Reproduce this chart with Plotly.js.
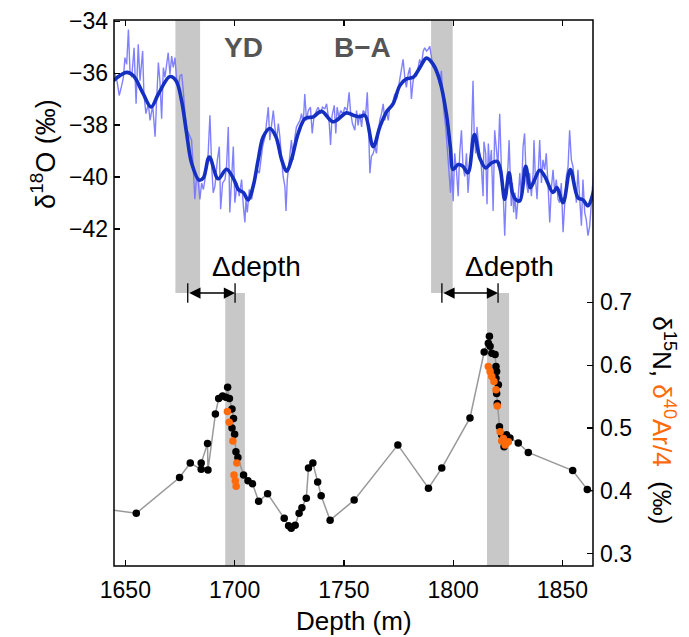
<!DOCTYPE html>
<html>
<head>
<meta charset="utf-8">
<script src="https://cdn.plot.ly/plotly-3.0.1.min.js"></script>
<style>html,body{margin:0;padding:0;background:#fff;}#chart{width:689px;height:637px;}</style>
</head>
<body>
<div id="chart"></div>
<script>
// ---- δ18O raw (thin line) ----
const depthRaw = [1644.5,1645.3,1646.3,1647.2,1648.3,1649.1,1649.8,1650.6,1651.4,1652.1,1652.9,1654.0,1654.9,1655.9,1656.7,1657.9,1658.5,1659.4,1660.5,1661.3,1662.5,1663.6,1664.3,1665.1,1665.8,1666.6,1667.4,1668.1,1668.9,1669.6,1670.4,1671.2,1671.9,1672.7,1673.5,1674.2,1675.0,1675.8,1676.5,1677.3,1678.3,1679.6,1680.3,1681.1,1681.8,1682.6,1683.4,1684.1,1684.9,1685.7,1686.9,1687.9,1688.7,1689.5,1690.2,1691.0,1692.1,1693.0,1693.6,1694.5,1695.6,1696.3,1697.1,1697.8,1698.6,1699.4,
1700.1,1701.2,1702.1,1703.2,1704.0,1704.7,1705.2,1705.8,1706.7,1707.8,1708.8,1709.7,1710.3,1711.3,1711.9,1712.8,1713.9,1714.6,1715.4,1716.1,1716.9,1717.7,1718.4,1719.2,1720.0,1720.7,1721.5,1722.2,1723.0,1723.5,1724.1,1725.0,1726.0,1726.8,1727.6,1728.3,1729.9,1730.6,1731.4,1732.1,1732.9,1733.7,1734.7,1735.5,1736.3,1737.5,1738.2,1739.3,1740.2,1741.3,1742.1,1743.3,1743.9,1744.6,1745.6,1746.3,1746.9,1747.7,1748.5,1749.7,1750.4,1751.5,1752.4,1753.0,1753.9,
1755.0,1755.8,1756.5,1757.3,1758.1,1758.8,1760.0,1760.7,1761.3,1761.9,1762.6,1763.4,1764.2,1764.9,1765.7,1766.4,1767.2,1768.0,1768.7,1769.5,1770.3,1771.0,1772.2,1773.3,1774.1,1774.8,1775.6,1776.3,1777.1,1777.9,1778.6,1779.4,1780.2,1780.9,1781.7,1782.4,1783.2,1784.0,1784.7,1785.5,1786.3,1787.0,1787.8,1788.5,1789.3,1790.1,1790.8,1791.6,1792.3,1793.1,1793.9,1794.6,1795.1,1795.7,1796.6,1797.2,1798.1,1798.8,1799.4,1800.0,1800.7,1801.5,1802.3,1803.0,1803.8,1804.5,1805.3,1806.1,1806.8,1807.6,1808.3,1809.1,
1809.6,1810.3,1810.9,1811.4,1812.2,1812.9,1813.7,1814.1,1814.9,1815.5,1816.1,1816.7,1817.5,1818.3,1819.0,1819.8,1820.5,1821.3,1822.1,1822.8,1823.6,1824.4,1825.1,1825.6,1826.2,1826.6,1827.1,1827.7,1828.3,1828.9,1829.7,1830.5,1831.2,1832.0,1832.7,1833.5,1834.3,1835.0,1835.8,1836.6,1837.0,1837.6,1838.4,1839.0,1839.6,1840.4,1841.1,1841.9,1842.6,1843.4,1844.2,1844.9,1845.7,1846.5,1847.2,1848.0,1848.7,1849.5,1850.3,1851.0,1851.8,1852.6,1853.3,1854.1,1854.8,1855.6,1856.4,1857.1,1857.9,1858.7,1859.4,1860.2,1860.9,1861.7,1862.5,1863.2,1864.0,1864.7];
const d18ORaw = [-35.91,-36.04,-36.36,-36.86,-36.48,-36.16,-35.40,-35.66,-34.32,-35.91,-36.16,-35.02,-37.18,-34.89,-36.29,-35.15,-36.80,-37.56,-37.18,-37.82,-37.24,-38.45,-37.05,-35.59,-36.29,-37.75,-35.78,-36.16,-35.66,-35.21,-36.04,-35.34,-35.78,-35.40,-36.29,-36.54,-36.10,-36.04,-36.67,-37.56,-38.19,-38.45,-38.58,-39.72,-40.86,-39.97,-40.23,-40.86,-40.23,-40.48,-39.85,-39.09,-37.62,-39.59,-40.61,-40.35,-39.34,-38.83,-41.24,-40.23,-40.10,-39.59,-38.07,-41.37,-40.23,-38.83,
-40.99,-40.23,-40.74,-40.10,-41.12,-41.75,-40.86,-41.37,-40.48,-40.86,-40.36,-39.98,-39.72,-39.85,-39.34,-38.83,-38.45,-37.82,-37.31,-38.58,-37.94,-37.44,-38.07,-38.58,-37.94,-38.45,-39.34,-39.98,-40.36,-41.31,-40.10,-39.34,-38.58,-39.34,-38.45,-38.07,-37.82,-37.56,-37.94,-36.80,-37.82,-37.44,-37.31,-38.32,-37.69,-37.44,-37.31,-37.56,-37.31,-37.37,-37.18,-37.94,-38.77,-37.63,-37.24,-38.32,-37.31,-37.69,-37.44,-37.56,-37.31,-37.44,-36.74,-37.44,-37.94,
-38.20,-37.44,-38.01,-37.56,-38.07,-37.44,-37.56,-36.74,-38.07,-39.85,-39.21,-39.09,-38.83,-39.09,-38.32,-37.82,-37.56,-37.18,-37.82,-37.44,-37.82,-37.31,-37.18,-36.80,-36.99,-36.61,-36.17,-35.78,-35.47,-36.17,-36.55,-36.04,-35.78,-36.99,-36.29,-36.04,-36.10,-35.78,-35.47,-35.66,-35.15,-35.02,-35.15,-35.09,-34.96,-35.40,-35.78,-35.72,-35.85,-36.17,-36.48,-35.91,-36.80,-37.44,-38.07,-38.71,-39.59,-40.61,-39.59,-40.93,-39.09,-39.72,-40.74,-39.09,-38.20,-39.59,-39.98,-39.09,-40.61,-39.34,-38.71,-36.29,
-38.20,-39.09,-38.07,-38.58,-39.21,-39.59,-40.74,-38.64,-39.09,-41.05,-38.71,-39.59,-38.96,-41.31,-38.20,-38.83,-39.59,-37.56,-39.72,-40.36,-42.26,-40.23,-39.59,-38.58,-40.86,-41.12,-40.23,-41.37,-40.61,-41.63,-40.86,-39.85,-40.86,-38.83,-38.32,-40.23,-40.61,-39.85,-40.74,-39.85,-38.58,-39.98,-40.86,-39.85,-38.58,-40.23,-39.34,-39.72,-39.09,-40.23,-41.75,-40.48,-39.72,-40.61,-40.10,-40.86,-40.99,-40.23,-42.13,-41.12,-39.98,-39.59,-38.20,-39.34,-39.59,-40.23,-40.99,-39.72,-40.86,-41.88,-40.10,-41.37,-41.63,-42.26,-41.88,-41.12,-40.10,-39.09];

// ---- δ18O smoothed (thick line) ----
const depthSmooth = [1644.5,1650.6,1653.7,1658.2,1661.8,1665.1,1670.4,1673.2,1675.7,1678.0,1680.3,1683.8,1685.7,1688.4,1692.5,1696.3,1699.7,1701.7,1704.0,1706.2,1708.5,1710.8,1713.1,1716.2,1718.9,1721.5,1723.8,1726.0,1729.1,1732.2,1736.0,1739.8,1745.1,1751.2,1754.3,1757.3,1759.6,1763.4,1766.5,1769.5,1772.5,1775.6,1778.6,1781.7,1784.8,1787.8,1790.8,1793.9,1796.9,1798.7,1800.0,1802.3,1804.5,1806.8,1809.7,1812.2,1814.9,1817.5,1820.1,1821.6,1823.6,1825.6,1827.1,1828.6,1830.5,1833.2,1835.3,1837.3,1839.6,1841.9,1845.7,1847.5,1850.3,1853.6,1857.1,1859.4,1861.7,1863.7,1864.8];
const d18OSmooth = [-36.29,-35.97,-36.10,-36.80,-37.30,-36.80,-36.13,-36.29,-37.05,-38.30,-39.46,-40.12,-40.03,-39.23,-40.07,-39.70,-40.10,-40.48,-40.60,-40.88,-40.35,-39.33,-38.45,-38.13,-38.45,-39.33,-39.78,-39.33,-38.32,-37.75,-37.68,-37.47,-37.87,-37.53,-37.62,-37.68,-37.62,-38.83,-38.06,-37.49,-37.18,-36.48,-36.22,-36.16,-35.78,-35.42,-35.65,-36.29,-37.56,-38.83,-39.71,-39.52,-39.59,-39.84,-38.36,-39.27,-39.65,-39.46,-39.40,-39.71,-40.86,-39.84,-40.60,-40.86,-40.92,-39.59,-40.41,-40.10,-39.74,-39.97,-40.60,-40.41,-40.99,-39.71,-40.80,-40.88,-41.11,-40.73,-40.35];

// ---- δ15N (black dots, grey line) ----
const depthN15 = [1640.0,1655.0,1674.8,1679.7,1684.7,1684.7,1687.6,1687.8,1691.2,1692.7,1694.5,1696.0,1696.8,1697.6,1698.8,1699.5,1698.8,1700.0,1700.6,1701.5,1704.1,1706.1,1708.2,1711.0,1715.1,1722.7,1724.7,1725.9,1727.7,1729.5,1730.8,1732.8,1733.8,1735.8,1738.0,1739.6,1743.7,1754.7,1774.7,1788.7,1794.8,1807.7,1814.2,1816.6,1816.1,1816.9,1817.7,1819.2,1819.6,1819.9,1819.6,1820.7,1819.9,1820.2,1821.2,1822.2,1823.3,1824.5,1826.0,1829.8,1834.4,1854.7,1861.4,1868.0];
const n15 = [0.371,0.364,0.421,0.444,0.434,0.444,0.475,0.433,0.522,0.547,0.551,0.549,0.565,0.547,0.530,0.515,0.500,0.490,0.462,0.453,0.425,0.416,0.411,0.383,0.395,0.356,0.344,0.340,0.345,0.364,0.373,0.388,0.436,0.444,0.414,0.392,0.353,0.385,0.473,0.404,0.436,0.516,0.621,0.646,0.635,0.630,0.619,0.617,0.598,0.590,0.579,0.569,0.555,0.539,0.502,0.489,0.470,0.489,0.484,0.476,0.461,0.432,0.402,0.393];

// ---- δ40Ar/4 (orange dots) ----
const depthAr = [1696.7,1697.5,1699.2,1701.0,1699.7,1700.3,1700.7,1816.1,1816.9,1817.7,1818.7,1819.6,1820.2,1821.5,1822.2,1823.0,1823.8,1824.5,1825.3];
const ar40 = [0.526,0.509,0.479,0.444,0.425,0.416,0.407,0.598,0.590,0.582,0.574,0.561,0.535,0.494,0.479,0.483,0.473,0.476,0.478];

// ---- grey bands (depth ranges) ----
const topBands = [[1672.9,1684.2],[1789.9,1799.8]];
const bottomBands = [[1695.7,1704.7],[1815.5,1825.6]];

const xTicks = [1650,1700,1750,1800,1850];
const yTopTicks = [-42,-40,-38,-36,-34];
const yBotTicks = [0.3,0.4,0.5,0.6,0.7];

const FONT = 'Liberation Sans, Arial, Helvetica, sans-serif';
const ORANGE = '#ff6a0a';

const traces = [
  {x: depthRaw, y: d18ORaw, xaxis:'x2', yaxis:'y', mode:'lines',
   line:{color:'rgba(115,115,255,0.9)', width:1.4}, hoverinfo:'skip'},
  {x: depthSmooth, y: d18OSmooth, xaxis:'x2', yaxis:'y', mode:'lines',
   line:{color:'#1530c0', width:3.6, shape:'spline', smoothing:1}, hoverinfo:'skip'},
  {x: depthN15, y: n15, xaxis:'x', yaxis:'y2', mode:'lines+markers',
   line:{color:'#999999', width:1.5}, marker:{color:'#000', size:7.5}, hoverinfo:'skip'},
  {x: depthAr, y: ar40, xaxis:'x', yaxis:'y2', mode:'markers',
   marker:{color:ORANGE, size:7.5}, hoverinfo:'skip'}
];

const shapes = [];
topBands.forEach(b => shapes.push({type:'rect', xref:'x', yref:'paper', x0:b[0], x1:b[1], y0:0.5, y1:1, fillcolor:'#c8c8c8', line:{width:0}, layer:'below'}));
bottomBands.forEach(b => shapes.push({type:'rect', xref:'x', yref:'paper', x0:b[0], x1:b[1], y0:0, y1:0.5, fillcolor:'#c8c8c8', line:{width:0}, layer:'below'}));
// frame
shapes.push({type:'rect', xref:'paper', yref:'paper', x0:0, x1:1, y0:0, y1:1, line:{color:'#000', width:1.5}, fillcolor:'rgba(0,0,0,0)'});

const annotations = [];
// Δdepth arrows: from centre of top band to centre of bottom band
for (let i = 0; i < topBands.length; i++) {
  const a = (topBands[i][0] + topBands[i][1]) / 2;
  const b = (bottomBands[i][0] + bottomBands[i][1]) / 2;
  annotations.push({x:b, y:0.5, xref:'x', yref:'paper', ax:a, ay:0, axref:'x', ayref:'pixel',
    text:'', showarrow:true, arrowhead:2, startarrowhead:2, arrowside:'end+start',
    arrowsize:1.5, startarrowsize:1.5, arrowwidth:1.5, arrowcolor:'#000', standoff:0, startstandoff:0});
  [a, b].forEach(v => shapes.push({type:'line', xref:'x', yref:'paper', x0:v, x1:v, y0:0.482, y1:0.518, line:{color:'#000', width:1.3}}));
}
const textAnn = (txt, x, y, size, color) => ({text:txt, x:x, y:y, xref:'x', yref:'paper', showarrow:false,
  xanchor:'center', yanchor:'middle', font:{family:FONT, size:size, color:color || '#000'}});
annotations.push(textAnn('Δdepth', 1709.9, 0.549, 28));
annotations.push(textAnn('Δdepth', 1826.0, 0.549, 28));
annotations.push(textAnn('<b>YD</b>', 1704.0, 0.9505, 28, '#555'));
annotations.push(textAnn('<b>B−A</b>', 1758.4, 0.9505, 28, '#555'));
// axis titles
annotations.push({text:'δ<sup>18</sup>O (‰)', xref:'paper', yref:'paper', x:-0.148, y:0.755, xanchor:'center', yanchor:'middle',
  showarrow:false, textangle:-90, font:{family:FONT, size:27, color:'#000'}});
annotations.push({text:'δ<sup>15</sup>N, <span style="color:'+ORANGE+'">δ<sup>40</sup>Ar/4</span>  (‰)', xref:'paper', yref:'paper',
  x:1.148, y:0.267, xanchor:'center', yanchor:'middle', showarrow:false, textangle:90, font:{family:FONT, size:26, color:'#000'}});
annotations.push({text:'Depth (m)', xref:'paper', yref:'paper', x:0.5, y:-0.1, xanchor:'center', yanchor:'middle', showarrow:false,
  font:{family:FONT, size:26, color:'#000'}});

const axCommon = {showgrid:false, zeroline:false, showline:false, ticks:'inside', ticklen:6, tickwidth:1.3, tickcolor:'#000',
  tickfont:{family:FONT, size:23, color:'#000'}};

const layout = {
  width:689, height:637,
  margin:{l:114, r:96, t:20, b:71},
  paper_bgcolor:'#fff', plot_bgcolor:'#fff',
  showlegend:false,
  xaxis: Object.assign({}, axCommon, {anchor:'y2', side:'bottom', range:[1644.8,1864], tickvals:xTicks, ticktext:xTicks.map(String), ticklabelstandoff:8}),
  xaxis2: Object.assign({}, axCommon, {anchor:'y', side:'top', matches:'x', range:[1644.8,1864], tickvals:xTicks, showticklabels:false}),
  yaxis: Object.assign({}, axCommon, {domain:[0.5,1], anchor:'x2', side:'left', range:[-44.47,-33.95], tickvals:yTopTicks, ticktext:yTopTicks.map(v=>'−'+Math.abs(v)), ticklabelstandoff:5}),
  yaxis2: Object.assign({}, axCommon, {domain:[0,0.5], anchor:'x', side:'right', range:[0.28,0.715], tickvals:yBotTicks, ticktext:yBotTicks.map(v=>v.toFixed(1)), ticklabelstandoff:6}),
  shapes: shapes,
  annotations: annotations
};

Plotly.newPlot('chart', traces, layout, {displayModeBar:false, staticPlot:true});
</script>
</body>
</html>
